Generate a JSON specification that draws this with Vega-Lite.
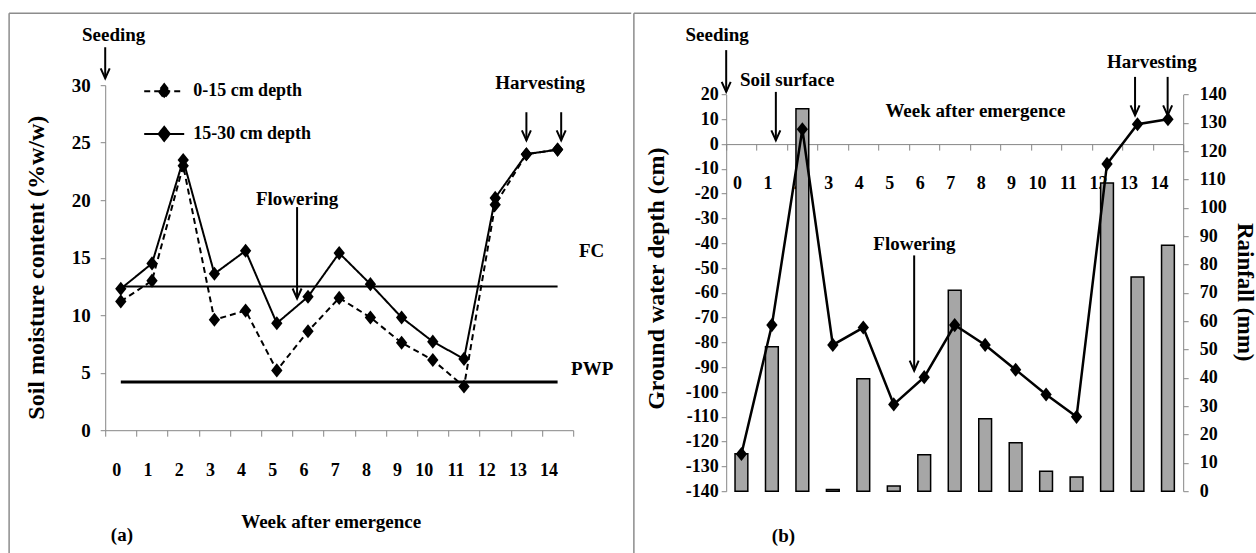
{
  "$schema": "https://vega.github.io/schema/vega-lite/v6.json",
  "background": "white",
  "padding": {"left": 8.2, "top": 12.2, "right": 0, "bottom": 0},
  "spacing": 0,
  "align": "none",
  "bounds": "full",
  "config": {
    "view": {"stroke": null},
    "font": "Liberation Serif",
    "axis": {
      "labelFont": "Liberation Serif", "titleFont": "Liberation Serif",
      "labelFontWeight": "bold", "titleFontWeight": "bold",
      "labelColor": "black", "titleColor": "black",
      "domainColor": "#868686", "tickColor": "#868686",
      "domainWidth": 1, "tickWidth": 1, "grid": false,
      "labelFontSize": 18, "titleFontSize": 24, "labelOverlap": false
    },
    "text": {"font": "Liberation Serif", "fontWeight": "bold", "fontSize": 19, "color": "black", "baseline": "middle", "align": "center"}
  },
  "datasets": {
    "one": [{}],
    "moisture": [
      {"week": 0, "depth": "0-15 cm depth", "value": 11.2},
      {"week": 1, "depth": "0-15 cm depth", "value": 13.0},
      {"week": 2, "depth": "0-15 cm depth", "value": 23.0},
      {"week": 3, "depth": "0-15 cm depth", "value": 9.6},
      {"week": 4, "depth": "0-15 cm depth", "value": 10.4},
      {"week": 5, "depth": "0-15 cm depth", "value": 5.2},
      {"week": 6, "depth": "0-15 cm depth", "value": 8.6},
      {"week": 7, "depth": "0-15 cm depth", "value": 11.5},
      {"week": 8, "depth": "0-15 cm depth", "value": 9.8},
      {"week": 9, "depth": "0-15 cm depth", "value": 7.6},
      {"week": 10, "depth": "0-15 cm depth", "value": 6.1},
      {"week": 11, "depth": "0-15 cm depth", "value": 3.8},
      {"week": 12, "depth": "0-15 cm depth", "value": 19.6},
      {"week": 13, "depth": "0-15 cm depth", "value": 24.0},
      {"week": 14, "depth": "0-15 cm depth", "value": 24.4},
      {"week": 0, "depth": "15-30 cm depth", "value": 12.3},
      {"week": 1, "depth": "15-30 cm depth", "value": 14.5},
      {"week": 2, "depth": "15-30 cm depth", "value": 23.5},
      {"week": 3, "depth": "15-30 cm depth", "value": 13.6},
      {"week": 4, "depth": "15-30 cm depth", "value": 15.6},
      {"week": 5, "depth": "15-30 cm depth", "value": 9.3},
      {"week": 6, "depth": "15-30 cm depth", "value": 11.6},
      {"week": 7, "depth": "15-30 cm depth", "value": 15.4},
      {"week": 8, "depth": "15-30 cm depth", "value": 12.7},
      {"week": 9, "depth": "15-30 cm depth", "value": 9.8},
      {"week": 10, "depth": "15-30 cm depth", "value": 7.7},
      {"week": 11, "depth": "15-30 cm depth", "value": 6.2},
      {"week": 12, "depth": "15-30 cm depth", "value": 20.2},
      {"week": 13, "depth": "15-30 cm depth", "value": 24.0},
      {"week": 14, "depth": "15-30 cm depth", "value": 24.4}
    ],
    "levels": [
      {"level": "FC", "week": 0, "value": 12.5},
      {"level": "FC", "week": 14, "value": 12.5},
      {"level": "PWP", "week": 0, "value": 4.2},
      {"level": "PWP", "week": 14, "value": 4.2}
    ],
    "water": [
      {"week": 0, "depth": -125, "rain": 13.2},
      {"week": 1, "depth": -73, "rain": 51.0},
      {"week": 2, "depth": 6, "rain": 135.0},
      {"week": 3, "depth": -81, "rain": 0.6},
      {"week": 4, "depth": -74, "rain": 39.7},
      {"week": 5, "depth": -105, "rain": 1.8},
      {"week": 6, "depth": -94, "rain": 12.9},
      {"week": 7, "depth": -73, "rain": 70.9},
      {"week": 8, "depth": -81, "rain": 25.6},
      {"week": 9, "depth": -91, "rain": 17.1},
      {"week": 10, "depth": -101, "rain": 7.0},
      {"week": 11, "depth": -110, "rain": 5.0},
      {"week": 12, "depth": -8, "rain": 108.8},
      {"week": 13, "depth": 8, "rain": 75.6},
      {"week": 14, "depth": 10, "rain": 86.8}
    ]
  },
  "hconcat": [
    {
      "width": 468,
      "height": 345,
      "layer": [
        {
          "data": {"name": "one"},
          "mark": {"type": "rule", "color": "#8c8c8c", "strokeWidth": 1.5},
          "encoding": {
            "x": {"datum": 0, "type": "ordinal", "bandPosition": -3.08},
            "x2": {"datum": 14, "bandPosition": 2.86},
            "y": {"datum": 36.26}
          }
        },
        {
          "data": {"name": "one"},
          "mark": {"type": "rule", "color": "#8c8c8c", "strokeWidth": 1.5},
          "encoding": {
            "x": {"datum": 0, "type": "ordinal", "bandPosition": -3.08},
            "y": {"datum": 36.26},
            "y2": {"datum": -10.7}
          }
        },
        {
          "data": {"name": "levels"},
          "mark": {"type": "line", "color": "black"},
          "encoding": {
            "x": {"field": "week", "type": "ordinal", "scale": {"type": "band"}},
            "y": {"field": "value", "type": "quantitative"},
            "detail": {"field": "level", "type": "nominal"},
            "strokeWidth": {"field": "level", "type": "nominal", "scale": {"domain": ["FC", "PWP"], "range": [2, 3]}, "legend": null}
          }
        },
        {
          "data": {"name": "moisture"},
          "mark": {"type": "line", "color": "black", "strokeWidth": 2},
          "encoding": {
            "x": {
              "field": "week", "type": "ordinal",
              "scale": {"type": "band", "domain": [0,1,2,3,4,5,6,7,8,9,10,11,12,13,14], "paddingInner": 0, "paddingOuter": 0},
              "axis": {
                "title": "Week after emergence", "labelAngle": 0, "tickBand": "extent",
                "tickSize": 6, "labelPadding": 34, "labelBaseline": "middle",
                "titleX": 225.5, "titleY": 91.5, "titleAlign": "center", "titleBaseline": "middle",
                "titleFontSize": 19
              }
            },
            "y": {
              "field": "value", "type": "quantitative",
              "scale": {"domain": [0, 30], "nice": false, "zero": false},
              "axis": {
                "title": "Soil moisture content (%w/w)", "values": [0,5,10,15,20,25,30],
                "tickSize": 5, "labelPadding": 10, "labelFontSize": 19, "labelOverlap": false,
                "titleX": -68.7, "titleY": 182, "titleAngle": -90, "titleAlign": "center", "titleBaseline": "middle"
              }
            },
            "strokeDash": {
              "field": "depth", "type": "nominal",
              "scale": {"domain": ["0-15 cm depth", "15-30 cm depth"], "range": [[6, 4], [1, 0]]},
              "legend": {
                "title": null, "orient": "none", "legendX": 38, "legendY": -15, "padding": 0,
                "symbolType": "M-1,0L1,0M0,-0.35L0.28,0L0,0.35L-0.28,0Z",
                "symbolSize": 1600, "symbolStrokeColor": "black", "symbolFillColor": "black", "symbolStrokeWidth": 2,
                "labelFont": "Liberation Serif", "labelFontWeight": "bold", "labelFontSize": 18, "labelColor": "black",
                "labelOffset": 8, "rowPadding": 10.7, "labelBaseline": "middle"
              }
            }
          }
        },
        {
          "data": {"name": "moisture"},
          "mark": {"type": "point", "shape": "M0,-1L0.8,0L0,1L-0.8,0Z", "filled": true, "color": "black", "size": 200, "opacity": 1},
          "encoding": {
            "x": {"field": "week", "type": "ordinal", "scale": {"type": "band"}},
            "y": {"field": "value", "type": "quantitative"}
          }
        },
        {
          "data": {"name": "one"},
          "mark": {"type": "text", "text": "Seeding"},
          "encoding": {"x": {"datum": 0, "type": "ordinal", "bandPosition": 0.27}, "y": {"datum": 34.4}}
        },
        {
          "data": {"name": "one"},
          "mark": {"type": "text", "text": "Flowering"},
          "encoding": {"x": {"datum": 6, "type": "ordinal", "bandPosition": 0.15}, "y": {"datum": 20.1}}
        },
        {
          "data": {"name": "one"},
          "mark": {"type": "text", "text": "Harvesting"},
          "encoding": {"x": {"datum": 13, "type": "ordinal", "bandPosition": 0.94}, "y": {"datum": 30.2}}
        },
        {
          "data": {"name": "one"},
          "mark": {"type": "text", "text": "FC", "dx": 34},
          "encoding": {"x": {"datum": 14, "type": "ordinal", "bandPosition": 0.5}, "y": {"datum": 15.54}}
        },
        {
          "data": {"name": "one"},
          "mark": {"type": "text", "text": "PWP", "dx": 34.6},
          "encoding": {"x": {"datum": 14, "type": "ordinal", "bandPosition": 0.5}, "y": {"datum": 5.33}}
        },
        {
          "data": {"name": "one"},
          "mark": {"type": "text", "text": "(a)"},
          "encoding": {"x": {"datum": 0, "type": "ordinal", "bandPosition": 0.535}, "y": {"datum": -9.1}}
        },
        {
          "data": {"name": "one"},
          "encoding": {"x": {"datum": 0, "type": "ordinal", "bandPosition": 0}},
          "layer": [
            {"mark": {"type": "rule", "color": "black", "strokeWidth": 2}, "encoding": {"y": {"datum": 33.3}, "y2": {"datum": 30.6}}},
            {"mark": {"type": "point", "shape": "M-0.45,-1L0,0L0.45,-1", "filled": false, "color": "black", "strokeWidth": 2, "size": 400, "opacity": 1}, "encoding": {"y": {"datum": 30.6}}}
          ]
        },
        {
          "data": {"name": "one"},
          "encoding": {"x": {"datum": 6, "type": "ordinal", "bandPosition": 0.15}},
          "layer": [
            {"mark": {"type": "rule", "color": "black", "strokeWidth": 2}, "encoding": {"y": {"datum": 19.4}, "y2": {"datum": 11.45}}},
            {"mark": {"type": "point", "shape": "M-0.45,-1L0,0L0.45,-1", "filled": false, "color": "black", "strokeWidth": 2, "size": 400, "opacity": 1}, "encoding": {"y": {"datum": 11.45}}}
          ]
        },
        {
          "data": {"name": "one"},
          "encoding": {"x": {"datum": 13, "type": "ordinal", "bandPosition": 0.5}},
          "layer": [
            {"mark": {"type": "rule", "color": "black", "strokeWidth": 2}, "encoding": {"y": {"datum": 27.65}, "y2": {"datum": 25.2}}},
            {"mark": {"type": "point", "shape": "M-0.45,-1L0,0L0.45,-1", "filled": false, "color": "black", "strokeWidth": 2, "size": 400, "opacity": 1}, "encoding": {"y": {"datum": 25.2}}}
          ]
        },
        {
          "data": {"name": "one"},
          "encoding": {"x": {"datum": 14, "type": "ordinal", "bandPosition": 0.615}},
          "layer": [
            {"mark": {"type": "rule", "color": "black", "strokeWidth": 2}, "encoding": {"y": {"datum": 27.65}, "y2": {"datum": 25.2}}},
            {"mark": {"type": "point", "shape": "M-0.45,-1L0,0L0.45,-1", "filled": false, "color": "black", "strokeWidth": 2, "size": 400, "opacity": 1}, "encoding": {"y": {"datum": 25.2}}}
          ]
        }
      ]
    },
    {
      "width": 457,
      "height": 406,
      "layer": [
        {
          "data": {"name": "water"},
          "mark": {"type": "bar", "fill": "#a6a6a6", "stroke": "black", "strokeWidth": 1.5, "width": {"band": 0.42}},
          "encoding": {
            "x": {"field": "week", "type": "ordinal", "scale": {"type": "band"}},
            "y": {
              "field": "rain", "type": "quantitative",
              "scale": {"domain": [0, 140], "nice": false, "rangeMax": 9.3},
              "axis": {
                "orient": "right", "title": "Rainfall (mm)", "values": [0,10,20,30,40,50,60,70,80,90,100,110,120,130,140],
                "tickSize": 5, "labelPadding": 11, "labelFontSize": 18, "labelOverlap": false,
                "titleX": 61, "titleY": 206.5, "titleAngle": 90, "titleAlign": "center", "titleBaseline": "middle", "titleFontSize": 23
              }
            }
          }
        },
        {
          "data": {"name": "water"},
          "mark": {
            "type": "line", "color": "black", "strokeWidth": 2.5,
            "point": {"shape": "M0,-1L0.8,0L0,1L-0.8,0Z", "filled": true, "color": "black", "size": 200, "opacity": 1}
          },
          "encoding": {
            "x": {
              "field": "week", "type": "ordinal",
              "scale": {"type": "band", "domain": [0,1,2,3,4,5,6,7,8,9,10,11,12,13,14], "paddingInner": 0, "paddingOuter": 0},
              "axis": {
                "orient": "bottom", "offset": -347.1, "title": "Week after emergence", "labelAngle": 0, "tickBand": "extent",
                "tickSize": 6, "labelPadding": 33, "labelBaseline": "middle",
                "titleX": 248.7, "titleY": -33.8, "titleAlign": "center", "titleBaseline": "middle", "titleFontSize": 19
              }
            },
            "y": {
              "field": "depth", "type": "quantitative",
              "scale": {"domain": [-140, 20], "nice": false, "zero": false, "rangeMax": 9.3},
              "axis": {
                "orient": "left", "title": "Ground water depth (cm)",
                "values": [-140,-130,-120,-110,-100,-90,-80,-70,-60,-50,-40,-30,-20,-10,0,10,20],
                "labelExpr": "'' + datum.value", "labelOverlap": false,
                "tickSize": 5, "labelPadding": 3, "labelFontSize": 18,
                "titleX": -69.3, "titleY": 193, "titleAngle": -90, "titleAlign": "center", "titleBaseline": "middle"
              }
            }
          }
        },
        {
          "layer": [
            {
              "data": {"name": "one"},
              "mark": {"type": "rule", "color": "#8c8c8c", "strokeWidth": 1.5},
              "encoding": {
                "x": {"datum": 0, "type": "ordinal", "bandPosition": -3.03},
                "x2": {"datum": 14, "bandPosition": 3.4},
                "y": {"datum": 52.8, "scale": {"domain": [-140, 20], "nice": false, "zero": false, "rangeMax": 9.3}, "axis": null}
              }
            },
            {
              "data": {"name": "one"},
              "mark": {"type": "rule", "color": "#8c8c8c", "strokeWidth": 1.5},
              "encoding": {
                "x": {"datum": 0, "type": "ordinal", "bandPosition": -3.03},
                "y": {"datum": 52.8, "axis": null},
                "y2": {"datum": -165}
              }
            },
            {
              "data": {"name": "one"},
              "mark": {"type": "text", "text": "Seeding", "dx": -9},
              "encoding": {"x": {"datum": 0, "type": "ordinal", "bandPosition": 0}, "y": {"datum": 44.0, "axis": null}}
            },
            {
              "data": {"name": "one"},
              "mark": {"type": "text", "text": "Soil surface"},
              "encoding": {"x": {"datum": 2, "type": "ordinal", "bandPosition": 0}, "y": {"datum": 26.0, "axis": null}}
            },
            {
              "data": {"name": "one"},
              "mark": {"type": "text", "text": "Flowering"},
              "encoding": {"x": {"datum": 6, "type": "ordinal", "bandPosition": 0.18}, "y": {"datum": -40.5, "axis": null}}
            },
            {
              "data": {"name": "one"},
              "mark": {"type": "text", "text": "Harvesting"},
              "encoding": {"x": {"datum": 13, "type": "ordinal", "bandPosition": 0.97}, "y": {"datum": 33.2, "axis": null}}
            },
            {
              "data": {"name": "one"},
              "mark": {"type": "text", "text": "(b)"},
              "encoding": {"x": {"datum": 1, "type": "ordinal", "bandPosition": 0.88}, "y": {"datum": -158.1, "axis": null}}
            },
            {
              "data": {"name": "one"},
              "encoding": {"x": {"datum": 0, "type": "ordinal", "bandPosition": 0}},
              "layer": [
                {"mark": {"type": "rule", "color": "black", "strokeWidth": 2}, "encoding": {"y": {"datum": 37.9, "axis": null}, "y2": {"datum": 21.05}}},
                {"mark": {"type": "point", "shape": "M-0.45,-1L0,0L0.45,-1", "filled": false, "color": "black", "strokeWidth": 2, "size": 400, "opacity": 1}, "encoding": {"y": {"datum": 21.05, "axis": null}}}
              ]
            },
            {
              "data": {"name": "one"},
              "encoding": {"x": {"datum": 1, "type": "ordinal", "bandPosition": 0.63}},
              "layer": [
                {"mark": {"type": "rule", "color": "black", "strokeWidth": 2}, "encoding": {"y": {"datum": 21.05, "axis": null}, "y2": {"datum": 1.5}}},
                {"mark": {"type": "point", "shape": "M-0.45,-1L0,0L0.45,-1", "filled": false, "color": "black", "strokeWidth": 2, "size": 400, "opacity": 1}, "encoding": {"y": {"datum": 1.5, "axis": null}}}
              ]
            },
            {
              "data": {"name": "one"},
              "encoding": {"x": {"datum": 6, "type": "ordinal", "bandPosition": 0.17}},
              "layer": [
                {"mark": {"type": "rule", "color": "black", "strokeWidth": 2}, "encoding": {"y": {"datum": -44.9, "axis": null}, "y2": {"datum": -91.4}}},
                {"mark": {"type": "point", "shape": "M-0.45,-1L0,0L0.45,-1", "filled": false, "color": "black", "strokeWidth": 2, "size": 400, "opacity": 1}, "encoding": {"y": {"datum": -91.4, "axis": null}}}
              ]
            },
            {
              "data": {"name": "one"},
              "encoding": {"x": {"datum": 13, "type": "ordinal", "bandPosition": 0.42}},
              "layer": [
                {"mark": {"type": "rule", "color": "black", "strokeWidth": 2}, "encoding": {"y": {"datum": 27.1, "axis": null}, "y2": {"datum": 11.6}}},
                {"mark": {"type": "point", "shape": "M-0.45,-1L0,0L0.45,-1", "filled": false, "color": "black", "strokeWidth": 2, "size": 400, "opacity": 1}, "encoding": {"y": {"datum": 11.6, "axis": null}}}
              ]
            },
            {
              "data": {"name": "one"},
              "encoding": {"x": {"datum": 14, "type": "ordinal", "bandPosition": 0.49}},
              "layer": [
                {"mark": {"type": "rule", "color": "black", "strokeWidth": 2}, "encoding": {"y": {"datum": 27.1, "axis": null}, "y2": {"datum": 11.6}}},
                {"mark": {"type": "point", "shape": "M-0.45,-1L0,0L0.45,-1", "filled": false, "color": "black", "strokeWidth": 2, "size": 400, "opacity": 1}, "encoding": {"y": {"datum": 11.6, "axis": null}}}
              ]
            }
          ]
        }
      ],
      "resolve": {"scale": {"y": "independent"}, "axis": {"y": "independent"}}
    }
  ]
}
